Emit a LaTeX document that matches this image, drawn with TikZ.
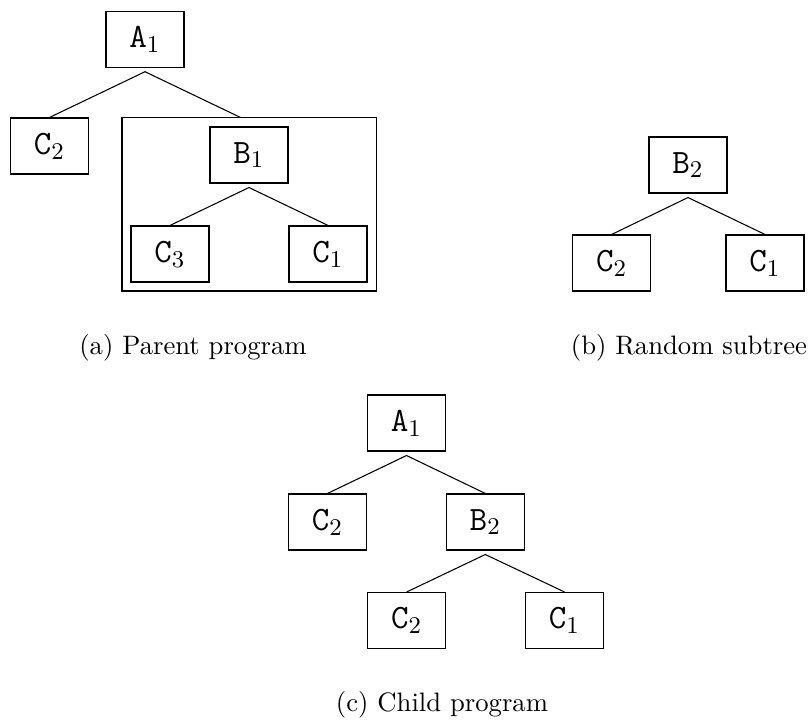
\documentclass[tikz,border=0pt]{standalone}
\usetikzlibrary{calc}
\tikzset{
  tnode/.style={draw, minimum width=29.25pt, minimum height=21pt, inner sep=0pt, font=\fontsize{12.8}{15}\selectfont},
  edge/.style={draw, line width=0.4pt},
  caption/.style={inner sep=0pt, anchor=base}
}
\begin{document}
\begin{tikzpicture}[x=0.375pt, y=-0.375pt]
\useasboundingbox (0,0) rectangle (810,721);

% (a) parent program
\node[tnode] (pa) at (145,39.2) {\texttt{A}$_1$};
\node[tnode] (pc2) at (49.5,146) {\texttt{C}$_2$};
\node[draw, minimum width=95.6pt, minimum height=64.9pt, inner sep=0pt] (sub) at (249.5,204.5) {};
\node[tnode] (pb) at (249,155) {\texttt{B}$_1$};
\node[tnode] (pc3) at (170,254) {\texttt{C}$_3$};
\node[tnode] (pc1) at (328,254) {\texttt{C}$_1$};
\coordinate (paj) at ([yshift=-1.5pt]pa.south);
\coordinate (pbj) at ([yshift=-1.5pt]pb.south);
\coordinate (subin) at ([xshift=-3.4pt]sub.north);
\draw[edge] (pc2.north) -- (paj) -- (subin);
\draw[edge] (pc3.north) -- (pbj) -- (pc1.north);
\node[caption] (capa) at (193,355) {(a) Parent program};

% (b) random subtree
\node[tnode] (rb) at (688,165) {\texttt{B}$_2$};
\node[tnode] (rc2) at (611.7,263) {\texttt{C}$_2$};
\node[tnode] (rc1) at (765,263) {\texttt{C}$_1$};
\coordinate (rbj) at ([yshift=-1.5pt]rb.south);
\draw[edge] (rc2.north) -- (rbj) -- (rc1.north);
\node[caption] (capb) at (689,355) {(b) Random subtree};

% (c) child program
\node[tnode] (ca) at (406.5,423) {\texttt{A}$_1$};
\node[tnode] (cc2) at (327.5,522) {\texttt{C}$_2$};
\node[tnode] (cb) at (485.3,522) {\texttt{B}$_2$};
\node[tnode] (cc2b) at (406.7,620.5) {\texttt{C}$_2$};
\node[tnode] (cc1) at (564.5,620.5) {\texttt{C}$_1$};
\coordinate (caj) at ([yshift=-1.5pt]ca.south);
\coordinate (cbj) at ([yshift=-1.5pt]cb.south);
\draw[edge] (cc2.north) -- (caj) -- (cb.north);
\draw[edge] (cc2b.north) -- (cbj) -- (cc1.north);
\node[caption] (capc) at (442,712) {(c) Child program};
\end{tikzpicture}
\end{document}
